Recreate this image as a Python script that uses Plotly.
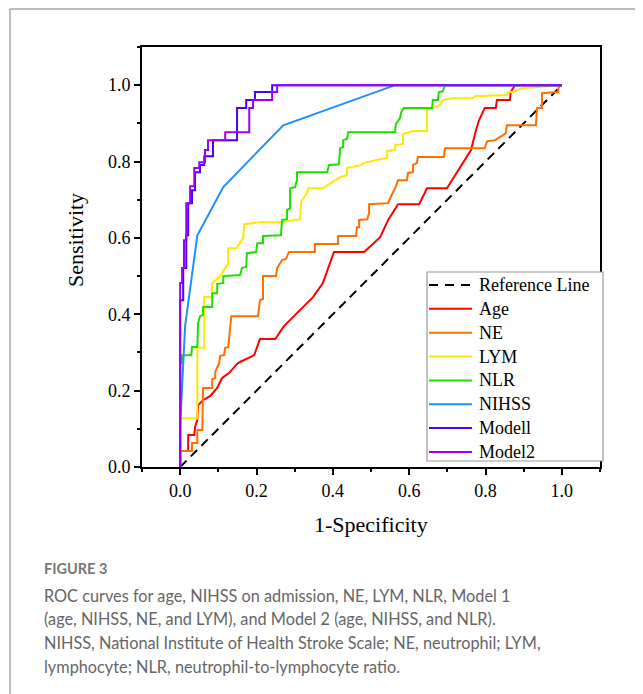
import plotly.graph_objects as go

# ROC curves (x = 1-specificity, y = sensitivity)
ref_x = [0, 1]
ref_y = [0, 1]

age_x = [0, 0, 0.021, 0.021, 0.037, 0.039, 0.045, 0.047, 0.060, 0.079, 0.097, 0.110, 0.128,
         0.149, 0.157, 0.194, 0.209, 0.249, 0.272, 0.288, 0.319, 0.348, 0.374, 0.403, 0.482,
         0.497, 0.524, 0.545, 0.571, 0.626, 0.647, 0.699, 0.728, 0.746, 0.762, 0.775, 0.783,
         0.798, 0.827, 0.830, 0.864, 0.866, 0.877, 1.0]
age_y = [0, 0.042, 0.042, 0.084, 0.084, 0.105, 0.123, 0.162, 0.175, 0.186, 0.207, 0.233, 0.246,
         0.270, 0.275, 0.293, 0.335, 0.335, 0.369, 0.385, 0.414, 0.445, 0.482, 0.563, 0.563,
         0.576, 0.602, 0.647, 0.688, 0.688, 0.730, 0.730, 0.777, 0.804, 0.830, 0.882, 0.908,
         0.940, 0.940, 0.961, 0.961, 0.982, 1.0, 1.0]

ne_x = [0, 0, 0.031, 0.031, 0.045, 0.045, 0.058, 0.060, 0.084, 0.084, 0.092, 0.092, 0.102,
        0.105, 0.115, 0.118, 0.126, 0.128, 0.134, 0.204, 0.207, 0.209, 0.217, 0.217, 0.251,
        0.254, 0.267, 0.277, 0.285, 0.353, 0.353, 0.414, 0.414, 0.461, 0.463, 0.469, 0.469,
        0.490, 0.495, 0.495, 0.545, 0.550, 0.563, 0.571, 0.594, 0.597, 0.610, 0.610, 0.620,
        0.623, 0.691, 0.694, 0.798, 0.804, 0.825, 0.853, 0.856, 0.932, 0.935, 0.948, 0.948,
        0.990, 0.992, 1.0]
ne_y = [0, 0.042, 0.042, 0.063, 0.063, 0.097, 0.097, 0.207, 0.207, 0.230, 0.233, 0.249, 0.272,
        0.291, 0.293, 0.312, 0.314, 0.332, 0.395, 0.395, 0.416, 0.437, 0.440, 0.5, 0.5,
        0.521, 0.542, 0.545, 0.563, 0.563, 0.584, 0.584, 0.605, 0.605, 0.628, 0.628, 0.647,
        0.649, 0.665, 0.688, 0.691, 0.704, 0.730, 0.751, 0.751, 0.770, 0.772, 0.791, 0.796,
        0.812, 0.812, 0.835, 0.835, 0.853, 0.856, 0.874, 0.895, 0.895, 0.940, 0.940, 0.979,
        0.982, 0.995, 1.0]

lym_x = [0, 0, 0.045, 0.045, 0.063, 0.063, 0.084, 0.084, 0.105, 0.126, 0.126, 0.147, 0.165,
         0.168, 0.209, 0.262, 0.314, 0.317, 0.332, 0.335, 0.374, 0.398, 0.419, 0.437, 0.437,
         0.476, 0.479, 0.524, 0.542, 0.542, 0.563, 0.563, 0.584, 0.584, 0.610, 0.647, 0.647,
         0.662, 0.681, 0.688, 0.712, 0.767, 0.772, 0.856, 0.859, 0.872, 0.895, 0.961, 1.0]
lym_y = [0, 0.128, 0.128, 0.312, 0.312, 0.445, 0.445, 0.482, 0.5, 0.534, 0.573, 0.573, 0.599,
         0.636, 0.641, 0.641, 0.649, 0.696, 0.717, 0.730, 0.730, 0.746, 0.759, 0.764, 0.783,
         0.791, 0.796, 0.806, 0.809, 0.827, 0.830, 0.843, 0.846, 0.872, 0.880, 0.880, 0.935,
         0.940, 0.948, 0.961, 0.966, 0.966, 0.971, 0.974, 0.982, 0.982, 0.992, 0.997, 1.0]

nlr_x = [0, 0, 0.005, 0.005, 0.029, 0.031, 0.045, 0.047, 0.052, 0.060, 0.060, 0.084, 0.084,
         0.097, 0.097, 0.113, 0.113, 0.157, 0.162, 0.173, 0.175, 0.199, 0.202, 0.217, 0.217,
         0.264, 0.267, 0.280, 0.280, 0.288, 0.288, 0.301, 0.306, 0.306, 0.385, 0.390, 0.416,
         0.419, 0.427, 0.427, 0.437, 0.440, 0.563, 0.565, 0.576, 0.579, 0.586, 0.660, 0.662,
         0.675, 0.678, 0.688, 0.694, 1.0]
nlr_y = [0, 0.272, 0.272, 0.293, 0.293, 0.314, 0.314, 0.377, 0.395, 0.398, 0.419, 0.419, 0.455,
         0.455, 0.479, 0.482, 0.5, 0.503, 0.521, 0.524, 0.560, 0.563, 0.586, 0.586, 0.605,
         0.607, 0.647, 0.649, 0.673, 0.678, 0.730, 0.733, 0.751, 0.772, 0.772, 0.791, 0.793,
         0.835, 0.838, 0.856, 0.859, 0.877, 0.877, 0.898, 0.914, 0.929, 0.940, 0.940, 0.961,
         0.961, 0.982, 0.984, 1.0, 1.0]

nihss_x = [0, 0, 0.013, 0.045, 0.113, 0.27, 0.563, 1.0]
nihss_y = [0, 0.11, 0.37, 0.607, 0.733, 0.895, 1.0, 1.0]

model1_x = [0, 0, 0.008, 0.008, 0.016, 0.016, 0.021, 0.021, 0.031, 0.031, 0.039, 0.039, 0.052,
            0.052, 0.063, 0.063, 0.086, 0.086, 0.149, 0.149, 0.173, 0.173, 0.196, 0.196, 0.241,
            0.241, 1.0]
model1_y = [0, 0.437, 0.437, 0.521, 0.521, 0.607, 0.607, 0.691, 0.691, 0.725, 0.725, 0.772,
            0.772, 0.791, 0.791, 0.814, 0.814, 0.856, 0.856, 0.940, 0.940, 0.961, 0.961, 0.982,
            0.982, 1.0, 1.0]

model2_x = [0, 0, 0.005, 0.005, 0.010, 0.010, 0.016, 0.016, 0.026, 0.026, 0.037, 0.037, 0.050,
            0.050, 0.065, 0.065, 0.073, 0.073, 0.118, 0.118, 0.181, 0.181, 0.191, 0.191, 0.241,
            0.241, 0.254, 0.254, 1.0]
model2_y = [0, 0.482, 0.482, 0.521, 0.521, 0.594, 0.594, 0.691, 0.691, 0.735, 0.735, 0.783,
            0.783, 0.798, 0.798, 0.830, 0.830, 0.856, 0.856, 0.877, 0.877, 0.940, 0.940, 0.961,
            0.961, 0.982, 0.982, 1.0, 1.0]

series = [
    ("Age", age_x, age_y, "#FF0000"),
    ("NE", ne_x, ne_y, "#FF6F00"),
    ("LYM", lym_x, lym_y, "#FFE800"),
    ("NLR", nlr_x, nlr_y, "#1EE000"),
    ("NIHSS", nihss_x, nihss_y, "#1E8FFF"),
    ("Modell", model1_x, model1_y, "#4B00FF"),
    ("Model2", model2_x, model2_y, "#9B00FF"),
]

caption_head = "FIGURE 3"
caption_lines = [
    "ROC curves for age, NIHSS on admission, NE, LYM, NLR, Model 1",
    "(age, NIHSS, NE, and LYM), and Model 2 (age, NIHSS, and NLR).",
    "NIHSS, National Institute of Health Stroke Scale; NE, neutrophil; LYM,",
    "lymphocyte; NLR, neutrophil-to-lymphocyte ratio.",
]

# page geometry (the page body has an 8px margin)
W, H = 643, 694
OFF = 8
L, R, T, B = 142, 600, 47, 467


def px_x(px):
    return (px - L) / (R - L)


def px_y(py):
    return (B - py) / (B - T)


serif = "Liberation Serif"
fig = go.Figure()
fig.add_trace(go.Scatter(x=ref_x, y=ref_y, mode="lines", name="Reference Line",
                         line=dict(color="black", width=2, dash="9px,6px")))
for name, xs, ys, color in series:
    fig.add_trace(go.Scatter(x=xs, y=ys, mode="lines", name=name,
                             line=dict(color=color, width=2)))

axis = dict(showline=True, linecolor="black", linewidth=2, mirror=True, ticks="outside",
            ticklen=6, tickwidth=1.5, tickcolor="black", showgrid=False, zeroline=False,
            tickformat=".1f", dtick=0.2, tick0=0,
            minor=dict(ticks="outside", ticklen=3, tickwidth=1.5, tickcolor="black", dtick=0.1,
                       showgrid=False),
            tickfont=dict(family=serif, size=18, color="black"))
fig.update_xaxes(range=[-0.1, 1.1], **axis)
fig.update_yaxes(range=[0, 1.1], **axis)

ann = [
    dict(x=px_x(75), y=px_y(240), text="Sensitivity", textangle=-90, xanchor="center",
         font=dict(family=serif, size=22, color="black")),
    dict(x=px_x(371), y=px_y(524), text="1-Specificity", xanchor="center",
         font=dict(family=serif, size=22, color="black")),
    dict(x=px_x(42), y=px_y(568), text="<b>" + caption_head + "</b>", xanchor="left",
         font=dict(family="Lato", size=14.5, color="#777777")),
]
for i, line in enumerate(caption_lines):
    ann.append(dict(x=px_x(42), y=px_y(595 + 23.7 * i), text=line, xanchor="left",
                    font=dict(family="Lato", size=16.3, color="#666666")))

shapes = [
    dict(type="line", x0=px_x(10), x1=px_x(10), y0=px_y(9), y1=px_y(H + 5),
         line=dict(color="#A8A8A8", width=1.5)),
    dict(type="line", x0=px_x(10), x1=px_x(W + 5), y0=px_y(9), y1=px_y(9),
         line=dict(color="#A8A8A8", width=1.5)),
    # legend box
    dict(type="rect", x0=px_x(427), x1=px_x(603), y0=px_y(272), y1=px_y(461),
         fillcolor="white", line=dict(color="#9A9A9A", width=1.2), layer="above"),
]

# hand-drawn legend
legend_items = [("Reference Line", "black", "dot")] + [(n, c, "solid") for n, _, _, c in series]
for i, (name, color, style) in enumerate(legend_items):
    yy = px_y(285 + 23.85 * i)
    shapes.append(dict(type="line", x0=px_x(429), x1=px_x(472), y0=yy, y1=yy, layer="above",
                       line=dict(color=color, width=2,
                                 dash="9px,7px" if style == "dot" else "solid")))
    ann.append(dict(x=px_x(477), y=yy, text=name, xanchor="left",
                    font=dict(family=serif, size=18, color="black")))

for a in ann:
    a.update(xref="paper", yref="paper", yanchor="middle", showarrow=False)
for s in shapes:
    s.update(xref="paper", yref="paper")

fig.update_layout(
    width=W - OFF, height=H - OFF,
    margin=dict(l=L - OFF, r=W - R, t=T - OFF, b=H - B),
    paper_bgcolor="white", plot_bgcolor="white",
    showlegend=False, annotations=ann, shapes=shapes,
)

fig.write_html("out.html")
